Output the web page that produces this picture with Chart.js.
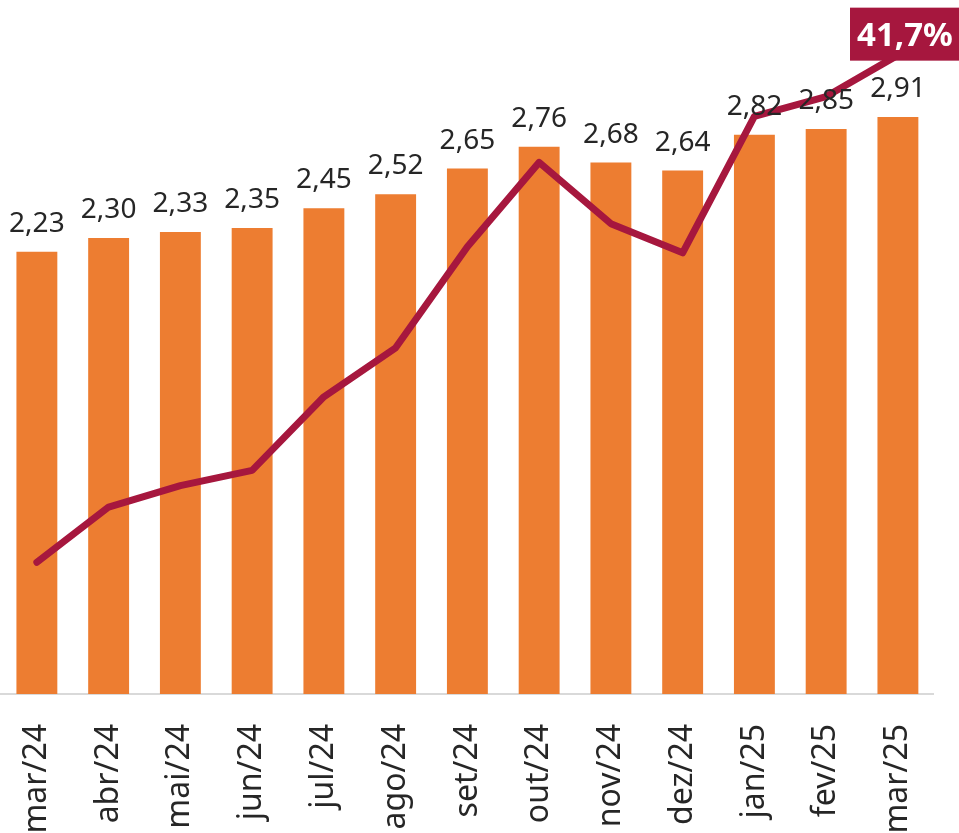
<!DOCTYPE html>
<html>
<head>
<meta charset="utf-8">
<script src="https://cdn.jsdelivr.net/npm/chart.js@4"></script>
<style>
  html, body { margin: 0; padding: 0; background: #fff; }
  canvas { display: block; }
</style>
</head>
<body>
<canvas id="js-chart" width="959" height="833"></canvas>
<script>
'use strict';
const months = ['mar/24', 'abr/24', 'mai/24', 'jun/24', 'jul/24', 'ago/24', 'set/24',
  'out/24', 'nov/24', 'dez/24', 'jan/25', 'fev/25', 'mar/25'];
const barValues = [2.23, 2.30, 2.33, 2.35, 2.45, 2.52, 2.65, 2.76, 2.68, 2.64, 2.82, 2.85, 2.91];
// percentage line, only the last point is labelled on the picture
const lineValues = [8.6, 12.2, 13.6, 14.6, 19.4, 22.6, 29.2, 34.7, 30.7, 28.8, 37.7, 39.0, 41.7];

const fmt = function(v, dec) {
  return v.toFixed(dec).replace('.', ',');
};

const labelPlugin = {
  id: 'labels',
  afterDatasetsDraw(chart) {
    const ctx = chart.ctx;
    ctx.save();
    // bar values
    let bars = chart.getDatasetMeta(1).data;
    ctx.font = '28px "Noto Sans"';
    ctx.fillStyle = '#262626';
    ctx.textAlign = 'center';
    ctx.textBaseline = 'alphabetic';
    bars.forEach(function(bar, i) {
      ctx.fillText(fmt(barValues[i], 2), bar.x, bar.y - 20);
    });
    // last point of the line
    let pts = chart.getDatasetMeta(0).data;
    let last = pts[pts.length - 1];
    let text = fmt(lineValues[lineValues.length - 1], 1) + '%';
    ctx.font = 'bold 33px "Noto Sans"';
    let w = ctx.measureText(text).width + 14;
    let h = 53;
    let cx = last.x + 7;
    let cy = last.y - 21;
    ctx.fillStyle = '#A6173E';
    ctx.fillRect(cx - w / 2, cy - h / 2, w, h);
    ctx.fillStyle = '#fff';
    ctx.textBaseline = 'middle';
    ctx.fillText(text, cx, cy + 2);
    ctx.restore();
  }
};

let ctx = document.getElementById('js-chart').getContext('2d');
let myChart = new Chart(ctx, {
  type: 'bar',
  data: {
    labels: months,
    datasets: [
      {
        type: 'line',
        label: '%',
        data: lineValues,
        yAxisID: 'y1',
        borderColor: '#A6173E',
        backgroundColor: 'rgba(0,0,0,0)',
        borderWidth: 7,
        borderCapStyle: 'round',
        borderJoinStyle: 'round',
        pointRadius: 0,
        tension: 0,
        order: 0
      },
      {
        label: 'valor',
        data: barValues,
        yAxisID: 'y',
        backgroundColor: '#ED7D31',
        barPercentage: 0.57,
        categoryPercentage: 1.0,
        order: 1
      }
    ]
  },
  options: {
    responsive: false,
    animation: false,
    devicePixelRatio: 1,
    layout: { padding: { left: 1, right: 18, top: 0, bottom: 0 } },
    plugins: {
      legend: { display: false },
      tooltip: { enabled: false }
    },
    scales: {
      x: {
        grid: { display: false },
        border: { display: true, color: '#D9D9D9', width: 2 },
        ticks: {
          color: '#262626',
          font: { family: 'Noto Sans', size: 32 },
          minRotation: 90,
          maxRotation: 90,
          padding: 22
        },
        afterFit: function(scale) {
          scale.height = 139;
        }
      },
      y: { display: false, min: 0, max: 3.5 },
      y1: { display: false, min: 0, max: 45.3, position: 'right' }
    }
  },
  plugins: [labelPlugin]
});
</script>
</body>
</html>
